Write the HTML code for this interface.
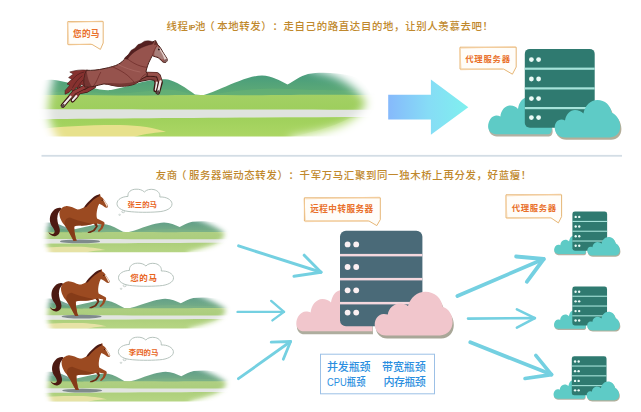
<!DOCTYPE html>
<html lang="zh-CN">
<head>
<meta charset="utf-8">
<title>线程IP池 vs 友商</title>
<style>
html,body{margin:0;padding:0;background:#fff;}
body{width:641px;height:412px;overflow:hidden;position:relative;font-family:"Liberation Sans","Noto Sans CJK SC",sans-serif;}
svg{position:absolute;left:0;top:0;display:block;}
text{font-family:"Liberation Sans","Noto Sans CJK SC",sans-serif;text-spacing-trim:space-all;}
.ttl{font-weight:500;fill:#c0882c;}
.bub{font-weight:700;fill:#e9702a;}
.cl{font-size:7.4px;font-weight:700;fill:#e8641c;}
.box{font-size:11px;font-weight:500;fill:#2b8fe0;}
</style>
</head>
<body>
<svg width="641" height="412" viewBox="0 0 641 412">
<defs>
  <linearGradient id="gArrow" x1="0" y1="0" x2="1" y2="0">
    <stop offset="0" stop-color="#86b9fb"/>
    <stop offset="0.5" stop-color="#86dcf6"/>
    <stop offset="1" stop-color="#7ff0ee"/>
  </linearGradient>
  <linearGradient id="gHill" x1="0" y1="0" x2="0" y2="1">
    <stop offset="0" stop-color="#469b7d"/>
    <stop offset="1" stop-color="#64ae74"/>
  </linearGradient>
  <linearGradient id="gGrass" x1="0" y1="0" x2="0" y2="1">
    <stop offset="0" stop-color="#a3d064"/>
    <stop offset="1" stop-color="#9dce5c"/>
  </linearGradient>
  <linearGradient id="gGrass2" x1="0" y1="0" x2="0" y2="1">
    <stop offset="0" stop-color="#9fd05b"/>
    <stop offset="1" stop-color="#afd867"/>
  </linearGradient>
  <filter id="blur5" x="-20%" y="-20%" width="140%" height="140%"><feGaussianBlur stdDeviation="4.6"/></filter>
  <filter id="blur4" x="-20%" y="-20%" width="140%" height="140%"><feGaussianBlur stdDeviation="4"/></filter>
  <filter id="blur2" x="-20%" y="-20%" width="140%" height="140%"><feGaussianBlur stdDeviation="2.6"/></filter>
  <filter id="desat" x="0" y="0" width="100%" height="100%" color-interpolation-filters="sRGB"><feColorMatrix type="saturate" values="0.78"/></filter>
  <filter id="blur1" x="-20%" y="-20%" width="140%" height="140%"><feGaussianBlur stdDeviation="0.5"/></filter>

  <!-- fade masks -->
  <mask id="mBig" maskUnits="userSpaceOnUse" x="20" y="30" width="380" height="140">
    <rect x="20" y="30" width="380" height="140" fill="#000"/>
    <path d="M62,50 L286,50 C296,60 305,68 316,71.4 C336,75 354,84 366,102 C364,110 356,118 344,124 C330,130 310,134 290,137.5 L290,156 L70,156 C58,142 49,126 48.4,112 C48,98 53,80 62,50 Z" fill="#fff" filter="url(#blur5)"/>
  </mask>
  <clipPath id="cBig"><rect x="20" y="50" width="380" height="86.4"/></clipPath>
  <mask id="mSmall" maskUnits="userSpaceOnUse" x="30" y="190" width="220" height="85">
    <rect x="30" y="190" width="220" height="85" fill="#000"/>
    <path d="M54,200 L150,200 C170,206 184,213 194,218 C206,222.6 217,227 224.6,233 C224.6,238 220,242 213,245 C205,248 196,250 188,252.4 L188,264 L56,264 C50,256 46.4,246 46.4,240 C46.4,232 49,220 54,200 Z" fill="#fff" filter="url(#blur2)"/>
  </mask>
  <clipPath id="cSmall"><rect x="30" y="200" width="220" height="52.2"/></clipPath>

  <!-- landscape content in big coordinates -->
  <g id="land">
    <path d="M30,86 C40,80 50,79 58,80.4 C70,82.6 84,86.4 100,89.4 C104,90 108,90.4 111,90 C120,88.6 130,85.4 140,82.6 C150,80 160,78.4 168,79.6 C176,81.4 186,88 195,94.6 L203,95.2 C209,93.4 216,90.6 222,88 C236,82.4 250,75.8 262,75.4 C272,75.6 280,80.6 287.5,84.5 C294,81 300,76 308,74 C320,72 336,72.6 352,76 C362,79.6 368,88 372,96 L380,98 L30,98 Z" fill="url(#gHill)"/>
    <path d="M30,96 C50,91 75,90 100,93 C120,95 140,91 165,89.4 C178,89.4 188,93 197,96 L204,96 C230,91 260,87 290,89 C320,91 350,89 380,93 V98 H30 Z" fill="#6ab374" opacity="0.5"/>
    <path d="M30,95.4 C80,94.2 120,96.2 160,95.2 C200,94.4 260,95.8 300,94.8 C330,94.4 360,95.2 380,94.8 V112 H30 Z" fill="url(#gGrass)"/>
    <path d="M30,109.2 C100,109 200,109.6 380,109.8 V117.2 C250,117.4 120,118.6 30,119.4 Z" fill="#dfe3de"/>
    <path d="M30,119.2 C120,118.4 250,117.2 380,117 V142 H30 Z" fill="url(#gGrass2)"/>
    <path d="M290,137 C310,133 330,128 350,118 L380,118 V142 H290 Z" fill="#b9e07a" opacity="0.6"/>
    <path d="M36,129.4 C60,126.4 90,124.8 120,125 C140,125.4 155,128 166,131.8 C150,133 140,135 134,137 L36,137 Z" fill="#e7e18c"/>
  </g>

  <!-- small landscape -->
  <g id="landS">
    <g clip-path="url(#cSmall)"><g mask="url(#mSmall)"><g filter="url(#desat)">
      <path d="M38,233 L38,224.4 C45,221.6 53,221.8 60,224.8 C66,227.6 73,230.4 82,232 L82,233 Z" fill="#5f9f8a" opacity="0.9"/>
      <use href="#land" transform="translate(3.7,185.7) scale(0.612,0.488)" opacity="0.92"/>
    </g></g></g>
  </g>

  <!-- small horse -->
  <g id="horseS">
    <ellipse cx="80" cy="241.4" rx="20" ry="1.9" fill="#7f8a8c"/>
    <!-- tail -->
    <path d="M61,208 C57,207 53.5,209.5 51.2,213.5 C49,218 49.5,223 52.5,227 C54.5,229.8 55.5,232 53.8,233.4 C52,234.6 49.8,233.6 48.3,231.6 C49.2,235 52.6,236.8 55.8,236 C59.4,235 60.6,231.6 59.4,227.8 C58,223.4 56.6,219.4 57.6,215.4 C58.2,212.6 59.8,210.4 61.6,209.6 Z" fill="#4c1a12"/>
    <!-- far legs (darker) -->
    <path d="M92,221 L95.8,226.4 L93,230 L88,232 L87.6,233 L90.2,233 L94.6,231 L97.8,226.4 L96,220 Z" fill="#6e2c12"/>
    <!-- body -->
    <path d="M100,193.8 L100.6,196.4 C102.4,197.4 103.6,198.6 104.4,200.2 L107.8,205.2 C108.4,206.4 107.8,207.6 106.6,207.7 C105.2,207.8 104,206.6 102.6,205.6 C101.4,204.8 100.2,204.2 99.2,203.8 C98.4,205.4 97.6,207.2 97.2,209.4 C96.6,212.4 96.2,215.6 97,218.4 L103.6,221.8 C104.6,222.4 104.8,223.4 104.4,224.6 L102.6,228.6 L99.6,231.6 L98,231.8 L98.2,230.6 L100.6,227.8 L101.6,224.4 L96.4,223.4 L92.4,224 C88,225.2 84,225.8 80,225.6 C77.6,225.4 75.6,225.8 74.2,226.4 L74.4,231.4 L75.8,238.6 L76.8,240.6 L73.6,240.9 L71.8,237.6 L68.4,231 L65.2,226 C62,222.6 59.4,218 59.4,213.6 C59.4,209.8 62,206.8 65.8,206.2 C70,205.6 74,208.6 77.6,209.4 C80.4,209.4 82.8,208.2 84.8,206.8 C87.6,204.2 90,201.4 92.4,199.2 C94.6,197.2 96.6,195.6 98.4,195 Z" fill="#9b4a21"/>
    <!-- belly shade -->
    <path d="M65.2,226 C63.6,221.6 66,217.6 70,217.6 C76,220.4 86,222.6 92.4,224 C88,225.2 84,225.8 80,225.6 C77.6,225.4 75.6,225.8 74.2,226.4 L74.4,231.4 L75.8,238.6 L76.8,240.6 L73.6,240.9 L71.8,237.6 L68.4,231 Z" fill="#7c3415" opacity="0.7"/>
    <!-- mane -->
    <path d="M99.6,194.6 C97.4,194.6 95.6,195.6 93.6,197 C90.6,199.4 87.8,202.4 85.4,205.2 L84,207.6 L86.2,207 C88.6,204.4 91,201.8 93.4,199.8 C95.4,198.2 97.4,196.8 99.4,196.2 Z" fill="#4c1a12"/>
    <!-- blaze -->
    <path d="M103.6,199.2 L107.4,204.8 C107.9,205.8 107.5,206.9 106.7,207.1 C106.2,205.2 104.8,202.6 103.2,200.2 Z" fill="#f3dfd0"/>
    <circle cx="102.2" cy="200.3" r="0.55" fill="#2a0e08"/>
  </g>

  <!-- thought cloud -->
  <g id="tcloud">
    <path d="M128,196.4 C127.4,192.2 131,189.2 136,189.2 C139.4,189 142.4,190 144.4,192 C146.4,189.6 150.4,188.8 154,189.6 C158,190.6 160.4,193.6 159.8,197 C166,196.6 171.6,199.6 172,203.6 C172.4,208.2 166,211.4 158,211.8 C148,212.6 136,212.4 128,211.4 C121,210.4 116.8,207.4 117,203.4 C117.2,199.4 122,196.6 128,196.4 Z" fill="#fff" stroke="#aebcb6" stroke-width="0.9"/>
    <ellipse cx="123.2" cy="211.7" rx="1.5" ry="1" fill="#fff" stroke="#b4c0bb" stroke-width="0.7"/>
    <ellipse cx="119.6" cy="214.8" rx="0.9" ry="0.6" fill="#fff" stroke="#b4c0bb" stroke-width="0.6"/>
  </g>

  <!-- server with clouds, designed at big (top-right) coordinates -->
  <g id="srvT">
    <!-- left cloud behind -->
    <path d="M496,134.3 C491.4,134.3 488,130.6 488.1,126.4 C488.2,121.6 491,116 496,115.6 C497.6,115.5 499,115.8 500.4,116.4 C501,110.4 505,105.8 510.4,105.6 C513.6,105.6 516.4,107 518,109 C519,102 522.6,97.6 527,97.4 L535,97 L549,120 C551.4,124 552.4,128 551.6,131 C551,133.4 549.6,134.3 548,134.3 Z" transform="translate(0.8,2.2)" fill="#9a9784" opacity="0.75"/>
    <path d="M496,134.3 C491.4,134.3 488,130.6 488.1,126.4 C488.2,121.6 491,116 496,115.6 C497.6,115.5 499,115.8 500.4,116.4 C501,110.4 505,105.8 510.4,105.6 C513.6,105.6 516.4,107 518,109 C519,102 522.6,97.6 527,97.4 L535,97 L549,120 C551.4,124 552.4,128 551.6,131 C551,133.4 549.6,134.3 548,134.3 Z" fill="#5ecbc6"/>
    <!-- server box -->
    <rect x="524.8" y="48.9" width="69.9" height="78.8" rx="5" ry="5" fill="#2f7a70"/>
    <rect x="524.8" y="67.6" width="69.9" height="2.2" fill="#a6e3da"/>
    <rect x="524.8" y="87.3" width="69.9" height="2.2" fill="#a6e3da"/>
    <rect x="524.8" y="107" width="69.9" height="2.2" fill="#a6e3da"/>
    <g fill="#eafaf6">
      <circle cx="531.4" cy="59.6" r="2.4"/><circle cx="538.6" cy="59.6" r="2.4"/>
      <circle cx="531.4" cy="79" r="2.4"/><circle cx="538.6" cy="79" r="2.4"/>
      <circle cx="531.4" cy="98.6" r="2.4"/><circle cx="538.6" cy="98.6" r="2.4"/>
      <circle cx="531.4" cy="117.6" r="2.4"/><circle cx="538.6" cy="117.6" r="2.4"/>
    </g>
    <!-- right cloud front, shadow then body -->
    <path d="M565,137.4 C558.8,137.4 554.6,133 554.7,127.4 C554.8,122.8 557.6,119.6 561.4,119.5 C562.8,119.5 564,119.8 565,120.4 C566,114.4 570,110 575,110 C578.4,110 581.4,111.4 583.4,113.6 C585,105.6 590.4,100 597.4,100 C605,100 610.6,105.4 611.6,112.4 C616.6,114.4 620.2,120 620.2,126.6 C620.2,133 616,137.4 610,137.4 Z" transform="translate(1.2,2.4)" fill="#a09a80" opacity="0.8"/>
    <path d="M565,137.4 C558.8,137.4 554.6,133 554.7,127.4 C554.8,122.8 557.6,119.6 561.4,119.5 C562.8,119.5 564,119.8 565,120.4 C566,114.4 570,110 575,110 C578.4,110 581.4,111.4 583.4,113.6 C585,105.6 590.4,100 597.4,100 C605,100 610.6,105.4 611.6,112.4 C616.6,114.4 620.2,120 620.2,126.6 C620.2,133 616,137.4 610,137.4 Z" fill="#5ecbc6"/>
  </g>
</defs>

<rect width="641" height="412" fill="#fff"/>

<!-- ======== top section ======== -->
<text class="ttl" x="166.5" y="29.6" font-size="10.4" letter-spacing="0.67">线程<tspan style="font-size:7.8px;font-weight:700;letter-spacing:-0.5px">IP</tspan>池<tspan dx="-1.8">（</tspan><tspan dx="1.8">本</tspan>地转发）：走自己的路直达目的地，让别人羡慕去吧！</text>

<!-- big landscape -->
<g clip-path="url(#cBig)"><g mask="url(#mBig)">
  <use href="#land"/>
</g></g>

<!-- big horse -->
<g id="horseB" stroke-linejoin="round" stroke-linecap="round">
  <!-- tail -->
  <path d="M87,70.2 C81,69.4 75,70.4 69.8,72 L73.4,74 L68.6,77.6 L71.6,79.2 L67,84 L69.8,85.2 L65.2,90.4 L65,94.2 L69,92.4 L71.6,89.4 L72.6,92 L76.6,87 L78.4,89.4 L81.4,84.4 L84.4,86 C83.4,80 84.4,74.6 87,70.2 Z" fill="#86312f" stroke="#451a18" stroke-width="0.6"/>
  <path d="M84,72 C79,73 75,76 72,80 M82,76 C78,79 75,83 72.6,87.4 M83,80 C80,83 78.4,86 77,88.4" fill="none" stroke="#4e1c1c" stroke-width="0.7"/>
  <!-- far hind leg (B) -->
  <path d="M94,86.4 L86.6,90.6 L79,92.2 L76.2,96.4 L72.6,100.4" fill="none" stroke="#3e1714" stroke-width="4.2"/>
  <path d="M94,86.4 L86.6,90.6 L79,92.2 L76.2,96.4" fill="none" stroke="#8a3432" stroke-width="3"/>
  <path d="M76.4,96 L72.8,100.2" fill="none" stroke="#f0eae8" stroke-width="2"/>
  <!-- near hind leg (A) -->
  <path d="M86,86.4 L74,92.4 L62.8,105.6" fill="none" stroke="#3e1714" stroke-width="4.4"/>
  <path d="M86,86.4 L74,92.4 L70.6,96.6" fill="none" stroke="#943c3a" stroke-width="3.2"/>
  <path d="M70.6,96.6 L63.2,105.2" fill="none" stroke="#f0eae8" stroke-width="2.1"/>
  <path d="M63.6,105 L62.2,106.4" fill="none" stroke="#5a4a48" stroke-width="2.2"/>
  <!-- far fore leg (D) -->
  <path d="M137,80.2 L150,77.8 L155.4,78.6 L156.8,82.6 L155.6,90" fill="none" stroke="#3e1714" stroke-width="4.6"/>
  <path d="M137,80.2 L150,77.8 L155.4,78.6 L156.6,82" fill="none" stroke="#84403c" stroke-width="2.8"/>
  <path d="M156.8,82.4 L155.7,89.8" fill="none" stroke="#efe6e4" stroke-width="1.9"/>
  <!-- near fore leg (C) -->
  <path d="M146,74 L156.6,74.2 L158.6,76 L160.6,82.4 L157.8,92.4" fill="none" stroke="#3e1714" stroke-width="4.6"/>
  <path d="M146,74 L156.6,74.2 L158.6,76 L160.4,81" fill="none" stroke="#96504a" stroke-width="3.4"/>
  <path d="M160.5,81.4 L158,92" fill="none" stroke="#f3ecea" stroke-width="2.3"/>
  <path d="M158.2,91.4 L157.6,93" fill="none" stroke="#5a4a48" stroke-width="2.4"/>
  <!-- body trunk + neck + head -->
  <path d="M155.6,40.9 L157.2,44.2 C159.6,46 161.6,49.6 162.8,52 L166.9,58.4 C167.9,60.4 166.8,62.4 164.8,62.5 C163.4,62.5 162,61.6 161,60.2 C159.4,58.2 157.4,57.2 155.4,56.8 C154,56.6 153,56 152.4,55.5 C151.2,57.6 150,60 148.8,62.6 C147.4,66 146.2,69.6 146,72 L147.4,73.4 L147,76 L140.6,79.6 C138.6,82.4 135.4,84.4 131,85.2 C127,86.2 122,86.4 118,86.3 C113,86 108.4,84 104,83.9 C100,84.4 97,86 93,86.6 L84.6,87 C83.6,81 84,75 86.4,70.3 C92,70.6 98,70 104,68.6 C110,67.4 115,66 118,64.5 C121.4,62.6 124,60 126,57.6 C132,50.4 142,44.4 152,42.2 Z" fill="#96534d" stroke="#47201a" stroke-width="1"/>
  <!-- darker belly/shading -->
  <path d="M104,83.9 C108.4,84 113,86 118,86.3 C122,86.4 127,86.2 131,85.2 C135.4,84.4 138.6,82.4 140.6,79.6 C136,82 128,83.6 120,83.4 C114,83.2 108,82.2 104,83.9 Z" fill="#6f3330" opacity="0.8"/>
  <path d="M84.6,87 C83.6,81 84,75 86.4,70.3 C87.4,76 88.4,82 92,86.6 Z" fill="#6a2b2a" opacity="0.75"/>
  <!-- muscle lines -->
  <path d="M126,57.6 C131,62 138,66.4 147,67.4 M112,66.6 C120,70 129,74.6 134.6,83 M100.6,72.4 C98,77 97,82 93.4,86 M147.4,73.4 C144,74.4 141.4,77 140.6,79.6 M152.6,55 C153.6,51 155.4,47.6 157,45.6" fill="none" stroke="#6b2a26" stroke-width="0.7"/>
  <path d="M118,64.5 C124,67.4 132,70.6 140,72" fill="none" stroke="#b0716a" stroke-width="0.6"/>
  <!-- mane -->
  <path d="M153.4,42 C149,40.2 146.4,40.6 144.4,41.2 L141,43.6 L138,44.6 L135,48 L131,50.4 L128.4,54.6 L124.2,58.4 L127.4,59.2 C132,52 142,46 152.4,44 Z" fill="#552020" stroke="#3a1514" stroke-width="0.4"/>
  <!-- face -->
  <path d="M157.4,46 C159.6,48.6 161.4,51.6 162.6,54 L165,58.6 C163,60 161.4,59.6 160,58 C158.4,56.6 156,56.4 154.2,55.6 C154.2,52 155.4,48.6 157.4,46 Z" fill="#a98480" opacity="0.9"/>
  <path d="M159.6,47.4 L166.6,58.4 C167.4,60.2 166.6,61.8 165,62 C164.6,58.6 162.4,53.6 159,49 Z" fill="#e6d3cf"/>
  <path d="M166.7,58.6 C167.6,60.4 166.6,62.2 164.8,62.3 L163.6,60.6 Z" fill="#7e5a58"/>
  <circle cx="158.9" cy="49.4" r="0.9" fill="#1e0c0a"/>
  <path d="M155.6,40.9 L154.4,44.6 L157.2,44.2 Z" fill="#6a302c" stroke="#47201a" stroke-width="0.4"/>
</g>

<!-- speech bubble 您的马 -->
<g>
  <path d="M67.8,21.6 H103.2 V43 L100.4,49.4 L92,44.4 H67.8 Z" fill="#fffdf9" stroke="#e3ae66" stroke-width="0.9" stroke-linejoin="round"/>
  <path d="M68.7,22.700000000000003 L102.60000000000001,20.900000000000002 M67.3,22.400000000000002 L68.89999999999999,43.8 M68.39999999999999,45.1 L91,43.9" fill="none" stroke="#f8cf9c" stroke-width="0.6"/>
  <text class="bub" x="86.2" y="36.7" text-anchor="middle" textLength="26.4" lengthAdjust="spacing" style="font-size:8.6px">您的马</text>
</g>

<!-- big gradient arrow -->
<path d="M388.2,94.8 H430.9 V79.5 L468.3,107.2 L430.9,134.8 V119.6 H388.2 Z" fill="url(#gArrow)"/>

<!-- speech bubble 代理服务器 (top) -->
<g>
  <path d="M460,47.2 H516.2 V67 L512.4,74.2 L503.7,69.1 H460 Z" fill="#fffdf9" stroke="#e3ae66" stroke-width="0.9" stroke-linejoin="round"/>
  <path d="M460.9,48.300000000000004 L515.6,46.5 M459.5,48.0 L461.1,68.5 M460.6,69.8 L502.7,68.6" fill="none" stroke="#f8cf9c" stroke-width="0.6"/>
  <text class="bub" x="487.6" y="61.8" text-anchor="middle" textLength="44.8" lengthAdjust="spacing" style="font-size:8.4px">代理服务器</text>
</g>

<use href="#srvT"/>

<!-- separator -->
<rect x="41.5" y="154.9" width="580.5" height="1.8" fill="#d3dde5"/>

<!-- ======== bottom section ======== -->
<text class="ttl" x="155.8" y="179.1" font-size="10.4" letter-spacing="0.67">友商<tspan dx="-2">（</tspan><tspan dx="2">服</tspan>务器端动态转发）：千军万马汇聚到同一独木桥上再分发，好蓝瘦！</text>

<use href="#landS"/>
<use href="#landS" x="1.2" y="76.2"/>
<use href="#landS" x="1.6" y="149.3"/>
<use href="#horseS"/>
<use href="#horseS" x="1.6" y="75.2"/>
<use href="#horseS" x="2.2" y="149.2"/>
<use href="#tcloud"/>
<use href="#tcloud" x="1.5" y="74"/>
<use href="#tcloud" x="1.4" y="148"/>
<text class="cl" x="142.2" y="207.1" text-anchor="middle">张三的马</text>
<text class="cl" x="143.6" y="281.3" text-anchor="middle" textLength="26.6" lengthAdjust="spacing" style="font-size:8.5px">您的马</text>
<text class="cl" x="143.6" y="355.1" text-anchor="middle">李四的马</text>

<!-- hand-drawn arrows -->
<g fill="none" stroke="#74d0e1" stroke-linecap="round" stroke-linejoin="round">
  <path d="M238.6,245.9 L321,272.3" stroke-width="3"/>
  <path d="M304.2,255.2 L321,272.3 L294,276.2" stroke-width="3"/>
  <path d="M237.6,311.9 L284,311.9" stroke-width="2.4"/>
  <path d="M271.2,300.9 L284,311.9 L272.4,320.4" stroke-width="2.4"/>
  <path d="M238.4,378.7 L290.6,341.5" stroke-width="2.8"/>
  <path d="M271.2,342.2 L290.6,341.5 L283.3,359.2" stroke-width="2.8"/>

  <path d="M457.4,296 L543.7,259" stroke-width="3.8"/>
  <path d="M516.1,256.5 L543.7,259 L526.8,281.8" stroke-width="3.8"/>
  <path d="M468,318.6 L534.9,318.1" stroke-width="2.6"/>
  <path d="M516.9,309.3 L534.9,318.1 L516.9,327.7" stroke-width="2.6"/>
  <path d="M470.3,342.3 L551.5,374.6" stroke-width="3.8"/>
  <path d="M535.8,355.4 L551.5,374.6 L525,378.5" stroke-width="3.6"/>
</g>

<!-- speech bubble 远程中转服务器 -->
<g>
  <path d="M304.4,197.8 H380.3 V219.6 L376.8,225.6 L369,221 H304.4 Z" fill="#fffdf9" stroke="#e3ae66" stroke-width="0.9" stroke-linejoin="round"/>
  <path d="M305.29999999999995,198.9 L379.7,197.10000000000002 M303.9,198.60000000000002 L305.5,220.4 M305.0,221.7 L368,220.5" fill="none" stroke="#f8cf9c" stroke-width="0.6"/>
  <text class="bub" x="341.7" y="212" text-anchor="middle" textLength="63" lengthAdjust="spacing" style="font-size:8.6px">远程中转服务器</text>
</g>

<!-- central server with pink clouds -->
<g>
  <path d="M304,331.3 C299,331.3 296.2,327.4 296.3,323.4 C296.4,318 300,311.8 306,311.6 C307.6,311.6 309.4,312 310.6,312.6 C311.4,305 316,299.2 322.4,299 C326,299 329,300.4 331,302.6 C332,295.4 336,290.4 341,290.2 L345,290 L372,318 L372.4,331.3 Z" transform="translate(0.6,3)" fill="#9a9886" opacity="0.8"/>
  <path d="M304,331.3 C299,331.3 296.2,327.4 296.3,323.4 C296.4,318 300,311.8 306,311.6 C307.6,311.6 309.4,312 310.6,312.6 C311.4,305 316,299.2 322.4,299 C326,299 329,300.4 331,302.6 C332,295.4 336,290.4 341,290.2 L345,290 L372,318 L372.4,331.3 Z" fill="#f1c6cc"/>
  <rect x="340" y="230.8" width="82.4" height="95.4" rx="6" ry="6" fill="#4a6a78"/>
  <rect x="340" y="253.9" width="82.4" height="2.5" fill="#f5d8de"/>
  <rect x="340" y="277.9" width="82.4" height="2.5" fill="#f5d8de"/>
  <rect x="340" y="301.9" width="82.4" height="2.5" fill="#f5d8de"/>
  <g fill="#fbf0f2">
    <circle cx="347.6" cy="244.4" r="2.9"/><circle cx="356.2" cy="244.4" r="2.9"/>
    <circle cx="347.6" cy="267" r="2.9"/><circle cx="356.2" cy="267" r="2.9"/>
    <circle cx="347.6" cy="290.3" r="2.9"/><circle cx="356.2" cy="290.3" r="2.9"/>
    <circle cx="347.6" cy="312.6" r="2.9"/><circle cx="356.2" cy="312.6" r="2.9"/>
  </g>
  <path d="M386,335.4 C379.4,335.4 374.6,330.4 374.7,324.4 C374.8,318.8 378.4,314.2 383.4,313.9 C384.8,313.8 386.4,314 387.8,314.6 C388.6,308.4 394,303.4 400.6,303.6 C403.6,303.7 406,304.6 408,306 C410.4,297.6 417,291.8 425.4,291.8 C434.6,291.8 441.6,298.4 442.8,306.9 C448.8,308.6 452.6,314.6 452.6,321.8 C452.6,329.6 447.4,335.4 440,335.4 Z" transform="translate(1.2,3.2)" fill="#9a9886" opacity="0.85"/>
  <path d="M386,335.4 C379.4,335.4 374.6,330.4 374.7,324.4 C374.8,318.8 378.4,314.2 383.4,313.9 C384.8,313.8 386.4,314 387.8,314.6 C388.6,308.4 394,303.4 400.6,303.6 C403.6,303.7 406,304.6 408,306 C410.4,297.6 417,291.8 425.4,291.8 C434.6,291.8 441.6,298.4 442.8,306.9 C448.8,308.6 452.6,314.6 452.6,321.8 C452.6,329.6 447.4,335.4 440,335.4 Z" fill="#f1c6cc"/>
</g>

<!-- bottleneck box -->
<rect x="320.5" y="354.2" width="114" height="39.6" fill="#fff" stroke="#9cc0e6" stroke-width="1"/>
<text class="box" x="327" y="371.4" textLength="43.5" lengthAdjust="spacing">并发瓶颈</text>
<text class="box" x="382" y="371.4" textLength="43.8" lengthAdjust="spacing">带宽瓶颈</text>
<text class="box" x="327" y="386.4" textLength="38.5" lengthAdjust="spacingAndGlyphs">CPU瓶颈</text>
<text class="box" x="383.6" y="386.4" textLength="42.2" lengthAdjust="spacing">内存瓶颈</text>

<!-- speech bubble 代理服务器 (bottom right) -->
<g>
  <path d="M506,194.8 H561.6 V216.6 L558.4,222.9 L551,217.9 H506 Z" fill="#fffdf9" stroke="#e3ae66" stroke-width="0.9" stroke-linejoin="round"/>
  <path d="M506.9,195.9 L561.0,194.10000000000002 M505.5,195.60000000000002 L507.1,217.3 M506.6,218.6 L550,217.4" fill="none" stroke="#f8cf9c" stroke-width="0.6"/>
  <text class="bub" x="533.9" y="210.9" text-anchor="middle" textLength="44.2" lengthAdjust="spacing" style="font-size:8.4px">代理服务器</text>
</g>

<!-- three small servers: scale .5 of top server (origin 524.8,48.9) -->
<use href="#srvT" transform="translate(572.4,211.6) scale(0.497) translate(-524.8,-48.9)"/>
<use href="#srvT" transform="translate(572.3,286.4) scale(0.497) translate(-524.8,-48.9)"/>
<use href="#srvT" transform="translate(571.8,356.2) scale(0.497) translate(-524.8,-48.9)"/>

</svg>
</body>
</html>
